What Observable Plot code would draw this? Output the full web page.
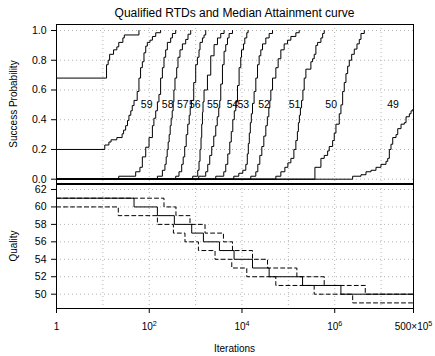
<!DOCTYPE html>
<html>
<head>
<meta charset="utf-8">
<script src="https://cdn.jsdelivr.net/npm/d3@7"></script>
<script src="https://cdn.jsdelivr.net/npm/@observablehq/plot@0.6"></script>
<style>
  body { margin: 0; background: #fff; }
  #wrap { position: relative; width: 435px; height: 356px; overflow: hidden;
          font-family: "Liberation Sans", Arial, Helvetica, sans-serif; color: #000; background: #fff; }
  .lbl { position: absolute; white-space: nowrap; line-height: 1; transform: translate(-50%, -50%); }
  .rot { transform: translate(-50%, -50%) rotate(-90deg); }
  #wrap svg { position: absolute; left: 0; }
</style>
</head>
<body>
<div id="wrap">
  <div class="lbl" style="left:234.5px; top:12.5px; font-size:12px">Qualified RTDs and Median Attainment curve</div>
  <div class="lbl rot" style="left:13.8px; top:104px; font-size:10px">Success Probability</div>
  <div class="lbl rot" style="left:13.8px; top:246px; font-size:10px">Quality</div>
  <div class="lbl" style="left:234.5px; top:349px; font-size:10px">Iterations</div>
</div>
<script>
// ---- Qualified run-time distributions: [iterations, success probability] ----
const rtd61 = [[1,.68],[12,.77],[13,.80],[14,.84],[17,.87],[20,.89],[22,.92],[27,.95],[29,.97],[60,1]];
const rtd60 = [[1,.2],[11,.23],[13.5,.25],[15,.265],[20,.28],[26,.305],[28,.33],[31,.36],[34,.395],[36.5,.43],[40,.46],[43,.495],[47,.53],[55,.59],[60,.68],[65,.75],[71,.79],[77,.85],[84,.895],[91,.92],[104,.935],[117,.96],[138,.985],[176,1]];
const rtd59 = [[1,0],[22,.02],[51,.05],[63,.08],[71,.15],[84,.215],[99,.28],[117,.36],[126,.41],[138,.46],[150,.52],[162,.57],[176,.68],[192,.75],[208,.82],[226,.87],[246,.92],[290,.95],[316,.98],[372,1]];
const rtd58 = [[1,0],[150,.02],[192,.06],[218,.1],[232,.15],[244,.2],[256,.25],[269,.3],[283,.36],[297,.41],[313,.46],[328,.52],[340,.6],[359,.68],[391,.75],[417,.82],[460,.87],[519,.91],[611,.94],[686,.975],[784,1]];
const rtd57 = [[1,0],[372,.02],[438,.05],[501,.1],[540,.15],[582,.22],[627,.3],[676,.37],[728,.43],[765,.48],[812,.53],[911,.65],[1005,.77],[1094,.82],[1185,.87],[1245,.92],[1403,.95],[1520,.97],[1653,1]];
const rtd56 = [[1,0],[866,.02],[1111,.06],[1185,.12],[1245,.2],[1309,.28],[1355,.37],[1403,.45],[1445,.52],[1520,.6],[1800,.7],[2120,.83],[2500,.905],[2960,.95],[3485,.98],[4110,1]];
const rtd55 = [[1,0],[1167,.02],[1653,.05],[1827,.1],[2018,.16],[2228,.22],[2462,.29],[2719,.36],[2930,.42],[3155,.48],[3318,.53],[3485,.64],[3795,.77],[4110,.86],[4470,.905],[4865,.95],[5270,.98],[6240,1]];
const rtd54 = [[1,0],[2719,.02],[4050,.05],[4470,.1],[4940,.17],[5455,.25],[5875,.32],[6335,.4],[6825,.46],[7350,.52],[8000,.63],[8665,.75],[9420,.82],[9770,.87],[10790,.91],[11510,.95],[12700,.985],[13550,1]];
const rtd53 = [[1,0],[6655,.02],[8535,.04],[10420,.06],[12090,.1],[13020,.17],[13690,.24],[14390,.31],[15130,.38],[15900,.44],[16870,.51],[18270,.59],[19880,.68],[21640,.77],[23440,.83],[25480,.87],[27740,.91],[32680,.95],[38540,.98],[45620,1]];
const rtd52 = [[1,0],[15490,.02],[19880,.05],[21960,.1],[24250,.16],[26780,.22],[29580,.29],[32680,.36],[35220,.42],[37950,.48],[39890,.53],[41900,.6],[45620,.68],[53760,.75],[60260,.81],[68900,.87],[81260,.91],[96180,.935],[113300,.96],[145300,.985],[171300,1]];
const rtd51 = [[1,0],[53760,.02],[68900,.05],[84100,.08],[97700,.11],[113300,.14],[131600,.2],[145300,.26],[156600,.32],[164500,.38],[173000,.43],[181900,.48],[193000,.53],[205900,.6],[219700,.68],[238900,.74],[306400,.79],[333600,.81],[361300,.84],[392800,.9],[427600,.92],[503800,.95],[548500,.98],[594100,1]];
const rtd50 = [[1,0],[374000,.08],[503800,.14],[594100,.16],[703300,.19],[762000,.22],[901600,.26],[977000,.31],[1063000,.37],[1253000,.44],[1362000,.5],[1483000,.59],[1606000,.65],[1747000,.71],[1902000,.76],[2060000,.8],[2321000,.84],[2641000,.875],[3020000,.91],[3388000,.94],[3684000,.98],[4343000,1]];
const rtd49 = [[1,0],[2438000,.02],[3684000,.03],[4724000,.05],[6057000,.06],[7766000,.08],[9950000,.1],[12770000,.12],[13900000,.14],[15060000,.2],[16370000,.235],[17820000,.28],[21000000,.3],[22860000,.34],[26930000,.37],[31750000,.38],[34530000,.42],[40710000,.44],[44290000,.46],[48210000,.47],[50000000,.47]];

// curve labels (quality level, iterations where the label sits at p = 0.5)
const labelLevels = [59, 58, 57, 56, 55, 54, 53, 52, 51, 50, 49];
const labelIters  = [88, 250, 530, 957, 2340, 6240, 10700, 30000, 136000, 840000, 18100000];

// ---- Median attainment curve and its dashed companions: [iterations, quality] ----
const medianCurve = [[1,61],[47,60],[150,59],[348,58],[824,57],[1473,56],[3266,55],[6750,54],[16870,53],[38500,52],[202700,51],[1360000,50],[5e7,50]];
const upperCurve  = [[1,61],[208,60],[377,59],[757,58],[1596,57],[3985,56],[6237,55],[16870,54],[35560,53],[152700,52],[593000,51],[4560000,50],[5e7,50]];
const lowerCurve  = [[1,60],[21.5,59],[150,58],[332,57],[590,56],[1149,55],[2625,54],[6025,53],[12700,52],[53700,51],[360600,50],[2440000,49],[5e7,49]];

// ---- ticks ----
const xTickValues = [1, 1e2, 1e4, 1e6, 5e7];
const xTickLabels = ["1", "10^2", "10^4", "10^6", "500\u00d710^5"];
const gridDecades = [10, 1e2, 1e3, 1e4, 1e5, 1e6, 1e7];
const probTicks = [0, 0.2, 0.4, 0.6, 0.8, 1.0];
const qualityTicks = [50, 52, 54, 56, 58, 60, 62];

const rtds = {61: rtd61, 60: rtd60, 59: rtd59, 58: rtd58, 57: rtd57, 56: rtd56, 55: rtd55,
              54: rtd54, 53: rtd53, 52: rtd52, 51: rtd51, 50: rtd50, 49: rtd49};
const rtdRows = [];
for (const [lvl, pts] of Object.entries(rtds)) for (const [it, p] of pts) rtdRows.push({level: +lvl, it, p});
const labelRows = labelLevels.map((l, i) => ({level: l, it: labelIters[i]}));
const toRows = (arr) => arr.map(([it, q]) => ({it, q}));
const xTickRows = xTickValues.map((v, i) => ({it: v, label: xTickLabels[i]}));

const FONT = '"Liberation Sans", Arial, Helvetica, sans-serif';
const gridStyle = {stroke: "#b4b4b4", strokeOpacity: 1, strokeWidth: 1, strokeDasharray: "1,3"};

const topPlot = Plot.plot({
  width: 435, height: 186,
  marginLeft: 56, marginRight: 22, marginTop: 24, marginBottom: 3,
  style: {fontFamily: FONT, fontSize: "10px", color: "#000", background: "transparent", overflow: "visible"},
  x: {type: "log", domain: [1, 5e7], axis: null},
  y: {domain: [-0.0289, 1.0404], axis: null},
  marks: [
    Plot.gridX(gridDecades, gridStyle),
    Plot.gridY(probTicks, gridStyle),
    Plot.line(rtdRows, {x: "it", y: "p", z: "level", curve: "step-after", stroke: "#000", strokeWidth: 1, clip: true}),
    Plot.text(labelRows, {x: "it", y: () => 0.5, text: d => String(d.level), fontSize: 10.5, fill: "#000"}),
    Plot.axisY(probTicks, {anchor: "left", tickSize: 5, tickPadding: 5, tickFormat: d3.format(".1f"), fontSize: 10.5, label: null}),
    Plot.frame({stroke: "#000", strokeWidth: 1})
  ]
});
topPlot.style.top = "0px";

const botPlot = Plot.plot({
  width: 435, height: 173,
  marginLeft: 56, marginRight: 22, marginTop: 1, marginBottom: 48,
  style: {fontFamily: FONT, fontSize: "10px", color: "#000", background: "transparent", overflow: "visible"},
  x: {type: "log", domain: [1, 5e7], axis: null},
  y: {domain: [48.36, 62.57], axis: null},
  marks: [
    Plot.gridX(gridDecades, gridStyle),
    Plot.gridY(qualityTicks, gridStyle),
    Plot.line(toRows(upperCurve), {x: "it", y: "q", curve: "step-after", stroke: "#000", strokeWidth: 1, strokeDasharray: "4,3"}),
    Plot.line(toRows(lowerCurve), {x: "it", y: "q", curve: "step-after", stroke: "#000", strokeWidth: 1, strokeDasharray: "4,3"}),
    Plot.line(toRows(medianCurve), {x: "it", y: "q", curve: "step-after", stroke: "#000", strokeWidth: 1}),
    Plot.axisY(qualityTicks, {anchor: "left", tickSize: 5, tickPadding: 5, tickFormat: d => String(d), fontSize: 10.5, label: null}),
    // x axis ticks (outward) and labels below the frame
    Plot.tickX(xTickRows, {x: "it", insetTop: 124, insetBottom: -5, stroke: "#000", strokeWidth: 1}),
    Plot.text(xTickRows, {x: "it", text: "label", frameAnchor: "bottom", dy: 21, fontSize: 10, fill: "#000"}),
    Plot.frame({stroke: "#000", strokeWidth: 1})
  ]
});
botPlot.style.top = "183px";

const wrap = document.getElementById("wrap");
wrap.appendChild(topPlot);
wrap.appendChild(botPlot);

// render "a^b" tick labels with a raised exponent
const NS = "http://www.w3.org/2000/svg";
botPlot.querySelectorAll("text").forEach(t => {
  const s = t.textContent;
  if (!s.includes("^")) return;
  const [base, exp] = s.split("^");
  while (t.firstChild) t.removeChild(t.firstChild);
  const b = document.createElementNS(NS, "tspan"); b.textContent = base;
  const e = document.createElementNS(NS, "tspan"); e.textContent = exp;
  e.setAttribute("dy", "-0.45em"); e.setAttribute("font-size", "0.72em");
  t.append(b, e);
});
</script>
</body>
</html>
